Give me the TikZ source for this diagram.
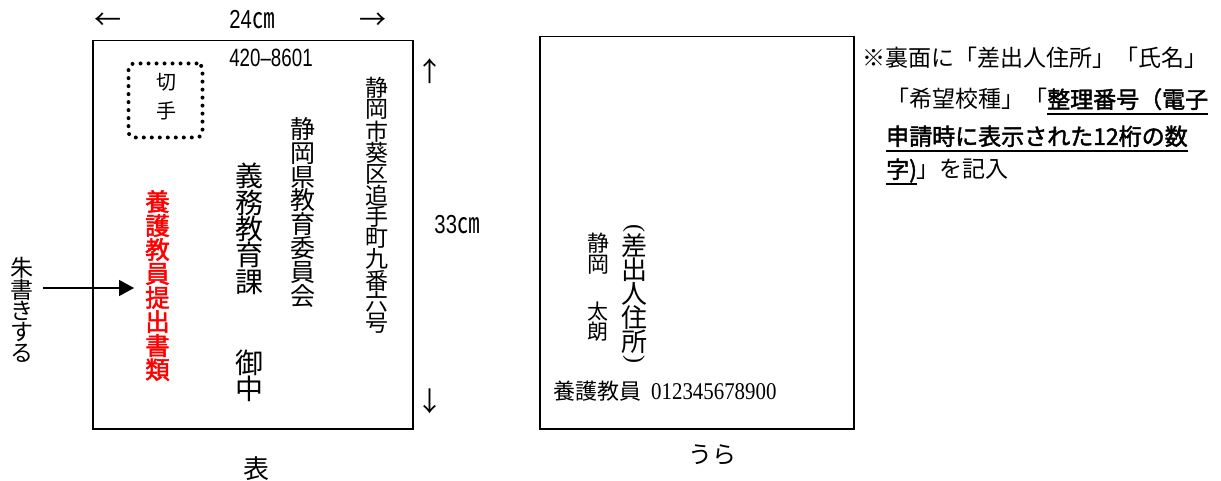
\documentclass[tikz,border=0pt]{standalone}
\usepackage{fontspec}
\newfontfamily\jp{Noto Sans CJK JP}
\newfontfamily\jpb[FakeBold=2]{Noto Sans CJK JP}
\newfontfamily\lsans{Liberation Sans}
\newfontfamily\lserif{Liberation Serif}
\usetikzlibrary{arrows.meta}
\newcommand\fs[2]{\fontsize{#1}{#2}\selectfont}
\newsavebox\ulbox
\newcommand\ulx[1]{\sbox\ulbox{#1}\rlap{\rule[-7pt]{\wd\ulbox}{1.6pt}}\usebox\ulbox}
\newcommand\dimlabel[1]{{\lsans\fs{26}{26}\scalebox{0.78}[1]{#1}}{\jp\fs{25}{25}\scalebox{0.9}[1.15]{㎝}}}
\begin{document}
\begin{tikzpicture}[x=1pt,y=-1pt,
  card/.style={draw, line width=1.5pt, inner sep=0, anchor=north west},
  stampbox/.style={draw, line width=4pt, dash pattern=on 0pt off 8pt, line cap=round, rounded corners=6pt, inner sep=0},
  vert/.style={inner sep=0, align=center, anchor=north},
  lbl/.style={inner sep=0, font=\jp\fs{27}{27}},
  note/.style={inner sep=0, anchor=base west, font=\jp\fs{23}{23}},
  arr/.style={line width=1.5pt, -{Triangle[length=15pt,width=16pt]}}]
\useasboundingbox (0,0) rectangle (1221,481);
% front side
\node[card, minimum width=320pt, minimum height=388pt] (front) at (92,40) {};
\node[stampbox, minimum width=74pt, minimum height=74pt] (stamp) at (165.5,100.5) {};
\node[inner sep=0, font=\jp\fs{20}{20}] (kiri) at (166,82.5) {切};
\node[inner sep=0, font=\jp\fs{20}{20}] (te) at (166,111) {手};
\node[inner sep=0, font=\lsans\fs{25}{25}] (zip) at (271,58) {\scalebox{0.75}[1]{420\textendash 8601}};
\node[vert, font=\jp\fs{23}{21.3}] (addr) at (377,77) {静\\岡\\市\\葵\\区\\追\\手\\町\\九\\番\\六\\号};
\node[vert, font=\jp\fs{25}{23.9}] (pref) at (303,117) {静\\岡\\県\\教\\育\\委\\員\\会};
\node[vert, font=\jp\fs{28}{26.4}] (dept) at (249,163) {義\\務\\教\\育\\課};
\node[vert, font=\jp\fs{28}{26}] (onchu) at (249,350) {御\\中};
\node[vert, font=\jpb\fs{24.5}{24}, text=red] (redtext) at (157.5,190) {養\\護\\教\\員\\提\\出\\書\\類};
\node[vert, font=\jp\fs{23}{21}] (shu) at (22,257) {朱\\書\\き\\す\\る};
\coordinate (as) at (43,288);
\coordinate (ae) at (134,288);
\draw[arr] (as) -- (ae);
% dimensions
\node[lbl] (larr) at (108,21) {←};
\node[lbl] (rarr) at (373,21) {→};
\node[inner sep=0] (wlbl) at (252,20) {\dimlabel{24}};
\node[lbl] (uarr) at (430,71) {↑};
\node[lbl] (darr) at (430,401) {↓};
\node[inner sep=0] (hlbl) at (457,225) {\dimlabel{33}};
\node[inner sep=0, font=\jp\fs{26}{26}] (omote) at (256,469) {表};
% back side
\node[card, minimum width=314pt, minimum height=392pt] (back) at (539,36) {};
\node[vert, font=\jp\fs{26}{24}] (sender) at (634,233) {差\\出\\人\\住\\所};
\node[inner sep=0, anchor=south, font=\lserif\fs{24}{24}] (pl) at (sender.north) {\rotatebox{-90}{(}};
\node[inner sep=0, anchor=north, font=\lserif\fs{24}{24}] (pr) at ([yshift=-2pt]sender.south) {\rotatebox{-90}{)}};
\node[vert, font=\jp\fs{22}{21}] (name1) at (598,233) {静\\岡};
\node[vert, font=\jp\fs{21}{20}] (name2) at (598,302) {太\\朗};
\node[inner sep=0, anchor=base west] (tel) at (553,399) {{\jp\fs{22}{22}養護教員}\hspace{10pt}{\lserif\fs{24}{24}\scalebox{0.87}[1]{012345678900}}};
\node[inner sep=0, font=\jp\fs{24}{24}] (ura) at (712,455) {うら};
% note
\node[note] (n1) at (862,67) {※裏面に「差出人住所」「氏名」};
\node[note] (n2) at (886,108) {「希望校種」「\ulx{\jpb 整理番号（電子}};
\node[note] (n3) at (886,145) {\ulx{\jpb 申請時に表示された12桁の数}};
\node[note] (n4) at (886,178) {\ulx{\jpb 字)}」を記入};
\end{tikzpicture}
\end{document}
